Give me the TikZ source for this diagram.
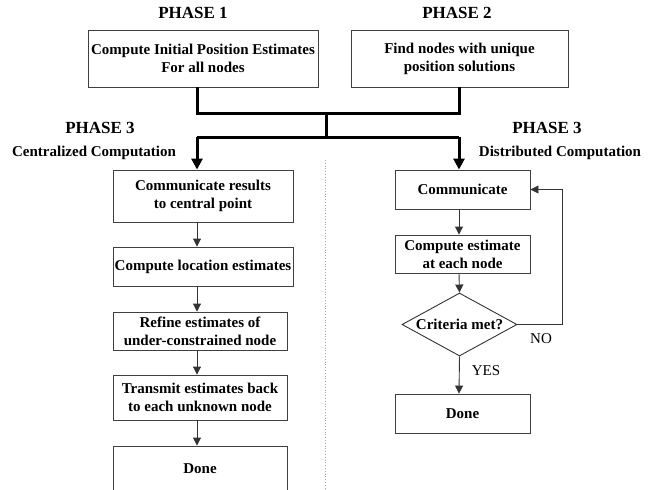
\documentclass[tikz,border=0pt]{standalone}
\usepackage{fontspec}
\setmainfont{Liberation Serif}
\usetikzlibrary{arrows.meta,shapes.geometric,calc}
\begin{document}
\begin{tikzpicture}[x=1pt,y=-1pt,
  box/.style={draw=black!75,line width=0.9pt,rectangle,inner sep=0pt,align=center,
    font=\fontsize{15}{18}\selectfont\bfseries},
  title/.style={font=\fontsize{17}{20}\selectfont\bfseries,inner sep=0pt},
  sub/.style={font=\fontsize{15}{18}\selectfont\bfseries,inner sep=0pt},
  lab/.style={font=\fontsize{15}{18}\selectfont,inner sep=0pt},
  bus/.style={line width=3pt,black},
  busarr/.style={line width=3pt,black,-{Triangle[length=11pt,width=11pt]}},
  arr/.style={line width=0.9pt,black!80,-{Triangle[length=8pt,width=8pt]}}]
\useasboundingbox (0,0) rectangle (667,490);
\clip (0,0) rectangle (667,490);
% titles
\node[title] (p1) at (193,13) {PHASE 1};
\node[title] (p2) at (457,13) {PHASE 2};
\node[title] (p3l) at (100,128) {PHASE 3};
\node[sub] (cc) at (94,153) {Centralized Computation};
\node[title] (p3r) at (547,128) {PHASE 3};
\node[sub] (dc) at (560,153) {Distributed Computation};
% top boxes
\node[box,minimum width=230pt,minimum height=57pt] (b1) at (203,58.5) {Compute Initial Position Estimates\\For all nodes};
\node[box,minimum width=217pt,minimum height=57pt] (b2) at (459.5,58.5) {Find nodes with unique\\position solutions};
% helper coordinates
\coordinate (lx) at (197,0);
\coordinate (rx) at (459,0);
\coordinate (j1) at (326,113);
\coordinate (j2) at (326,137);
% left column
\node[box,minimum width=180pt,minimum height=52pt] (A) at (203,196) {Communicate results\\ to central point};
\node[box,minimum width=180pt,minimum height=39pt] (B) at (203,266.5) {Compute location estimates};
\node[box,minimum width=174pt,minimum height=38pt] (C) at (200,331) {Refine estimates of\\under-constrained node};
\node[box,minimum width=174pt,minimum height=45pt] (D) at (200,397.5) {Transmit estimates back\\to each unknown node};
\node[box,minimum width=174pt,minimum height=60pt] (E) at (200,476) {};
\node[sub] (Et) at (200,469) {Done};
% right column
\node[box,minimum width=135pt,minimum height=39pt] (F) at (462.5,189.5) {Communicate};
\node[box,minimum width=135pt,minimum height=38pt] (G) at (462.5,254) {Compute estimate\\at each node};
\node[draw=black!80,line width=0.9pt,shape=diamond,aspect=1.83,inner sep=0pt,
  minimum width=115pt,minimum height=63pt,font=\fontsize{15}{18}\selectfont\bfseries] (Q) at (459.5,324.5) {Criteria met?};
\node[box,minimum width=135pt,minimum height=39pt] (H) at (462.5,413.5) {Done};
\node[lab] (no) at (541,339) {NO};
\node[lab] (yes) at (486,371) {YES};
% bus lines
\draw[bus] (b1.south -| lx) |- (j1) -| (b2.south -| rx);
\draw[bus] (j1) -- (j2);
\draw[bus] (lx |- j2) -- (rx |- j2);
\draw[busarr] (lx |- j2) -- (A.north -| lx);
\draw[busarr] (rx |- j2) -- (F.north -| rx);
% dotted divider
\draw[gray!70,dotted,line width=0.8pt] (325,160) -- (325,490);
% left arrows
\draw[arr] (A.south -| lx) -- (B.north -| lx);
\draw[arr] (B.south -| lx) -- (C.north -| lx);
\draw[arr] (C.south -| lx) -- (D.north -| lx);
\draw[arr] (D.south -| lx) -- (E.north -| lx);
% right arrows
\draw[arr] (F.south -| rx) -- (G.north -| rx);
\draw[arr] (G.south -| rx) -- (Q.north);
\draw[arr] (Q.south) -- (H.north -| rx);
\draw[arr] (Q.east) -- ++(45,0) |- (F.east);
\end{tikzpicture}
\end{document}
